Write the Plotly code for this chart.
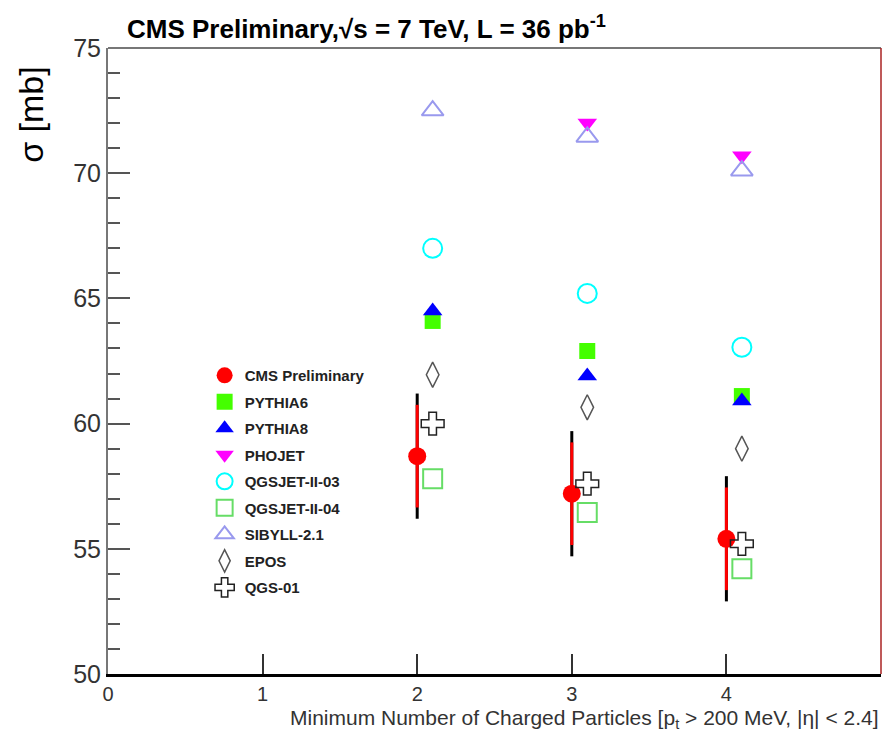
import plotly.graph_objects as go

# ---- data ----
cms_x = [2, 3, 4]
cms_y = [58.7, 57.2, 55.4]
cms_err_total = [2.5, 2.5, 2.5]
cms_err_stat = [2.05, 2.05, 2.05]

model_x = [2.1, 3.1, 4.1]
pythia6 = [64.1, 62.9, 61.1]
pythia8 = [64.5, 61.9, 60.9]
phojet = [None, 72.0, 70.7]
qgsjet03 = [67.0, 65.2, 63.05]
qgsjet04 = [57.8, 56.45, 54.2]
sibyll = [72.5, 71.45, 70.1]
epos = [61.95, 60.65, 59.0]
qgs01 = [60.0, 57.6, 55.2]

x_ticks = [0, 1, 2, 3, 4, 5]
y_ticks = [50, 55, 60, 65, 70, 75]

NARROW = "Liberation Sans Narrow, Liberation Sans, Arial, sans-serif"

fig = go.Figure()

# total uncertainty (black ends)
fig.add_trace(go.Scatter(
    x=cms_x, y=cms_y, mode="markers", showlegend=False, hoverinfo="skip",
    marker=dict(size=1, color="rgba(0,0,0,0)"),
    error_y=dict(type="data", array=cms_err_total, color="black", thickness=3, width=0),
))

models = [
    ("PYTHIA6", pythia6, dict(symbol="square", size=16, color="#44ff00")),
    ("PYTHIA8", pythia8, dict(symbol="triangle-up", size=17, color="#0000ff")),
    ("PHOJET", phojet, dict(symbol="triangle-down", size=17, color="#ff00ff")),
    ("QGSJET-II-03", qgsjet03, dict(symbol="circle-open", size=19, color="#00ffff",
                                    line=dict(width=2, color="#00ffff"))),
    ("QGSJET-II-04", qgsjet04, dict(symbol="square-open", size=19, color="#66dd66",
                                    line=dict(width=2, color="#66dd66"))),
    ("SIBYLL-2.1", sibyll, dict(symbol="triangle-up-open", size=19, color="#9999ee",
                                line=dict(width=2, color="#9999ee"))),
    ("EPOS", epos, dict(symbol="diamond-tall-open", size=18, color="#555555",
                        line=dict(width=1.5, color="#555555"))),
    ("QGS-01", qgs01, dict(symbol="cross-open", size=19, color="#222222",
                           line=dict(width=1.5, color="#222222"))),
]

# CMS data (red)
fig.add_trace(go.Scatter(
    x=cms_x, y=cms_y, mode="markers", name="CMS Preliminary", legendgroup="cms",
    marker=dict(symbol="circle", size=18, color="#ff0000"),
    error_y=dict(type="data", array=cms_err_stat, color="#ff0000", thickness=3, width=0),
))

for name, vals, mk in models:
    fig.add_trace(go.Scatter(
        x=model_x, y=vals, mode="markers", name=name, legendgroup=name,
        marker=mk,
    ))

fig.add_annotation(
    text="<b>CMS Preliminary,√s = 7 TeV, L = 36 pb<sup>-1</sup></b>",
    xref="paper", yref="paper", x=0.022, y=1.033, xanchor="left", yanchor="middle",
    showarrow=False, font=dict(family=NARROW, size=26, color="black"),
)
fig.add_annotation(
    text="σ [mb]", textangle=-90,
    xref="paper", yref="paper", x=-0.1, y=0.975, xanchor="center", yanchor="top",
    showarrow=False, font=dict(family="Liberation Sans, Arial, sans-serif", size=34, color="black"),
)
fig.add_annotation(
    text="Minimum Number of Charged Particles [p<sub>t</sub> > 200 MeV, |η| < 2.4]",
    xref="paper", yref="paper", x=1.0, y=-0.072, xanchor="right", yanchor="middle",
    showarrow=False, font=dict(family=NARROW, size=21, color="#333333"),
)

# frame: top gray, right red
fig.add_shape(type="line", xref="paper", yref="paper", x0=0, x1=1, y0=1, y1=1,
              line=dict(color="#777777", width=2))
fig.add_shape(type="line", xref="paper", yref="paper", x0=1, x1=1, y0=0, y1=1,
              line=dict(color="#aa2222", width=1.5))

fig.update_layout(
    width=885, height=747,
    margin=dict(l=108, r=4, t=48, b=73),
    paper_bgcolor="white", plot_bgcolor="white",
    showlegend=True,
    legend=dict(
        x=0.125, y=0.503, xanchor="left", yanchor="top",
        bgcolor="rgba(0,0,0,0)", borderwidth=0,
        font=dict(family=NARROW, size=15, color="#222222", weight="bold"),
        tracegroupgap=4, itemwidth=30,
    ),
    xaxis=dict(
        range=[0, 5], tickvals=x_ticks, ticks="inside", ticklen=20, tickwidth=1.5,
        tickcolor="#333333", showgrid=False, zeroline=False,
        showline=True, linecolor="black", linewidth=3,
        tickfont=dict(family=NARROW, size=20, color="#333333"),
    ),
    yaxis=dict(
        range=[50, 75], tickvals=y_ticks, ticks="inside", ticklen=22, tickwidth=1.5,
        tickcolor="#555555", showgrid=False, zeroline=False,
        showline=True, linecolor="#777777", linewidth=2,
        tickfont=dict(family=NARROW, size=25, color="#333333"),
        minor=dict(dtick=1, ticks="inside", ticklen=12, tickwidth=1.5, tickcolor="#555555",
                   showgrid=False),
    ),
)

fig.write_html("out.html")
